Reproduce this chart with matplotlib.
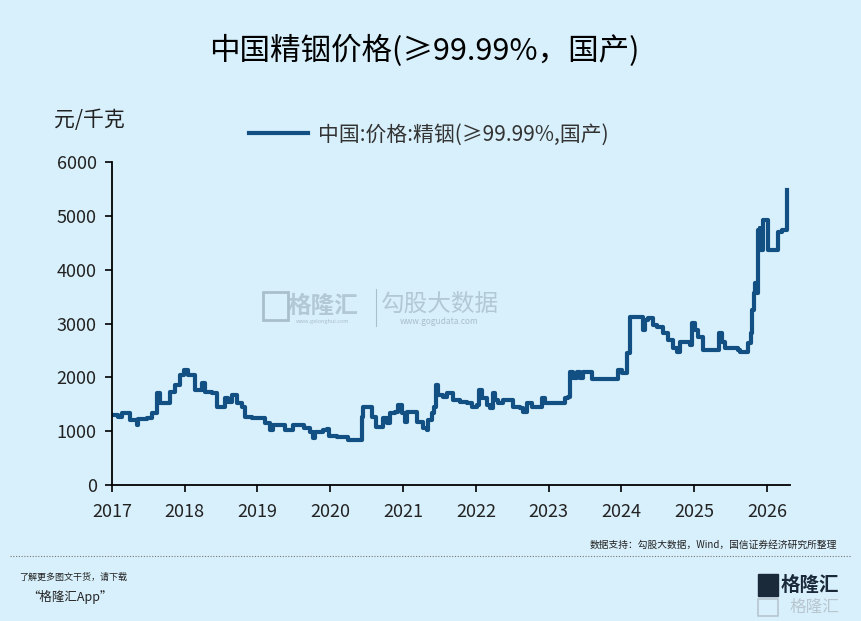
import matplotlib
matplotlib.use("Agg")
import matplotlib.pyplot as plt
from matplotlib.lines import Line2D

plt.rcParams['font.family'] = ['Noto Sans CJK SC', 'DejaVu Sans']

# price of refined indium, yuan/kg (x in decimal years)
years = [2017.00, 2017.08, 2017.14, 2017.18, 2017.25, 2017.34, 2017.36, 2017.48, 2017.55, 2017.62,
         2017.66, 2017.73, 2017.80, 2017.87, 2017.93, 2017.99, 2018.04, 2018.14, 2018.21, 2018.24,
         2018.28, 2018.37, 2018.44, 2018.51, 2018.55, 2018.59, 2018.65, 2018.72, 2018.79, 2018.83,
         2018.92, 2019.03, 2019.10, 2019.17, 2019.21, 2019.31, 2019.38, 2019.47, 2019.49, 2019.58,
         2019.64, 2019.72, 2019.76, 2019.79, 2019.90, 2019.95, 2019.98, 2020.09, 2020.20, 2020.24,
         2020.38, 2020.43, 2020.45, 2020.52, 2020.57, 2020.63, 2020.71, 2020.72, 2020.78, 2020.82,
         2020.89, 2020.93, 2020.98, 2021.02, 2021.05, 2021.12, 2021.19, 2021.27, 2021.33, 2021.34,
         2021.40, 2021.42, 2021.45, 2021.48, 2021.55, 2021.60, 2021.68, 2021.78, 2021.88, 2021.95,
         2022.01, 2022.04, 2022.08, 2022.15, 2022.19, 2022.23, 2022.26, 2022.30, 2022.37, 2022.47,
         2022.51, 2022.60, 2022.65, 2022.70, 2022.77, 2022.88, 2022.91, 2022.95, 2023.20, 2023.22,
         2023.26, 2023.29, 2023.33, 2023.39, 2023.43, 2023.47, 2023.54, 2023.59, 2023.91, 2023.95,
         2024.01, 2024.05, 2024.07, 2024.12, 2024.28, 2024.29, 2024.32, 2024.36, 2024.43, 2024.49,
         2024.57, 2024.64, 2024.71, 2024.77, 2024.80, 2024.87, 2024.94, 2024.97, 2025.01, 2025.05,
         2025.12, 2025.31, 2025.34, 2025.38, 2025.42, 2025.60, 2025.63, 2025.72, 2025.74, 2025.78,
         2025.80, 2025.82, 2025.83, 2025.86, 2025.87, 2025.90, 2025.91, 2025.94, 2025.98, 2026.01,
         2026.13, 2026.15, 2026.20, 2026.24, 2026.27, 2026.28]
prices = [1300, 1260, 1340, 1340, 1210, 1115, 1230, 1245, 1340, 1710,
          1520, 1520, 1730, 1860, 2045, 2140, 2045, 1765, 1765, 1900,
          1730, 1710, 1450, 1450, 1615, 1540, 1670, 1520, 1450, 1265,
          1245, 1245, 1150, 1020, 1115, 1115, 1020, 1020, 1115, 1115,
          1060, 985, 875, 985, 1020, 1040, 910, 890, 890, 835,
          835, 1265, 1450, 1450, 1265, 1080, 1080, 1245, 1150, 1340,
          1360, 1490, 1340, 1170, 1360, 1360, 1170, 1060, 1020, 1210,
          1340, 1450, 1860, 1670, 1635, 1710, 1580, 1540, 1520, 1450,
          1490, 1765, 1615, 1490, 1430, 1710, 1580, 1520, 1580, 1580,
          1450, 1430, 1360, 1520, 1450, 1450, 1615, 1520, 1520, 1615,
          1635, 2100, 1990, 2100, 1990, 2100, 2100, 1970, 1970, 2140,
          2080, 2080, 2450, 3120, 3120, 2880, 3065, 3100, 2970, 2935,
          2825, 2695, 2545, 2470, 2655, 2655, 2600, 3010, 2880, 2750,
          2510, 2510, 2825, 2655, 2545, 2510, 2470, 2470, 2640, 2825,
          3250, 3570, 3755, 3570, 4740, 4775, 4365, 4925, 4925, 4365,
          4365, 4700, 4740, 4740, 4870, 5480]

year_ticks = list(range(2017, 2027))
price_ticks = [0, 1000, 2000, 3000, 4000, 5000, 6000]

bg = '#d8f0fb'
line_color = '#124f82'

fig = plt.figure(figsize=(8.61, 6.21), dpi=100, facecolor=bg)
ax = fig.add_axes([0.130, 0.219, 0.787, 0.520], facecolor=bg)

ax.plot(years, prices, color=line_color, lw=3.0, drawstyle='steps-post')

ax.set_xlim(2017, 2026.31)
ax.set_ylim(0, 6000)
ax.set_xticks(year_ticks)
ax.set_xticklabels([str(y) for y in year_ticks], fontsize=13)
ax.set_yticks(price_ticks)
ax.set_yticklabels([str(p) for p in price_ticks], fontsize=13)
ax.tick_params(direction='out', length=5, width=1.2, color='black', labelcolor='#222222')
ax.tick_params(axis='x', pad=8)
ax.tick_params(axis='y', pad=6)
for side in ['top', 'right']:
    ax.spines[side].set_visible(False)
for side in ['left', 'bottom']:
    ax.spines[side].set_linewidth(1.3)

# title, unit and legend
fig.text(0.493, 0.918, '中国精铟价格(≥99.99%，国产)', ha='center', va='center', fontsize=22)
fig.text(0.063, 0.806, '元/千克', ha='left', va='center', fontsize=15, color='#222222')
handle = Line2D([], [], color=line_color, lw=3.0)
fig.legend([handle], ['中国:价格:精铟(≥99.99%,国产)'], loc='center left',
           bbox_to_anchor=(0.268, 0.783), frameon=False, fontsize=15,
           handlelength=2.8, handletextpad=0.5, labelcolor='#333333')

# faint watermark in the middle
fig.text(0.375, 0.508, '格隆汇', ha='center', va='center', fontsize=17, color='#a9bfcc', alpha=0.8, weight='bold')
fig.text(0.375, 0.482, 'www.gelonghui.com', ha='center', va='center', fontsize=4, color='#a9bfcc')
fig.add_artist(plt.Rectangle((0.305, 0.485), 0.03, 0.044, fill=False, ec='#a9bfcc', lw=2,
                             transform=fig.transFigure))
fig.text(0.51, 0.510, '勾股大数据', ha='center', va='center', fontsize=17, color='#a9bfcc', alpha=0.8)
fig.text(0.51, 0.482, 'www.gogudata.com', ha='center', va='center', fontsize=6, color='#a9bfcc')
fig.add_artist(Line2D([0.437, 0.437], [0.475, 0.535], color='#a9bfcc', lw=0.8))

# source and footer
fig.text(0.972, 0.123, '数据支持：勾股大数据，Wind，国信证券经济研究所整理', ha='right', va='center',
         fontsize=7, color='#222222')
fig.add_artist(Line2D([0.012, 0.988], [0.105, 0.105], color='#777777', lw=0.8, ls=(0, (1, 1.5))))
fig.text(0.022, 0.071, '了解更多图文干货，请下载', ha='left', va='center', fontsize=6.5,
         style='italic', color='#222222')
fig.text(0.032, 0.038, '“格隆汇App”', ha='left', va='center', fontsize=9, style='italic', color='#222222')
fig.text(0.975, 0.057, '格隆汇', ha='right', va='center', fontsize=14, weight='bold', color='#1b2a3a')
fig.text(0.975, 0.022, '格隆汇', ha='right', va='center', fontsize=12, color='#b8c6d0')
fig.add_artist(plt.Rectangle((0.880, 0.040), 0.024, 0.036, color='#1b2a3a', transform=fig.transFigure))
fig.add_artist(plt.Rectangle((0.880, 0.008), 0.024, 0.028, fill=False, ec='#b8c6d0', lw=1.2,
                             transform=fig.transFigure))

fig.savefig('out.png', dpi=100, facecolor=bg)
